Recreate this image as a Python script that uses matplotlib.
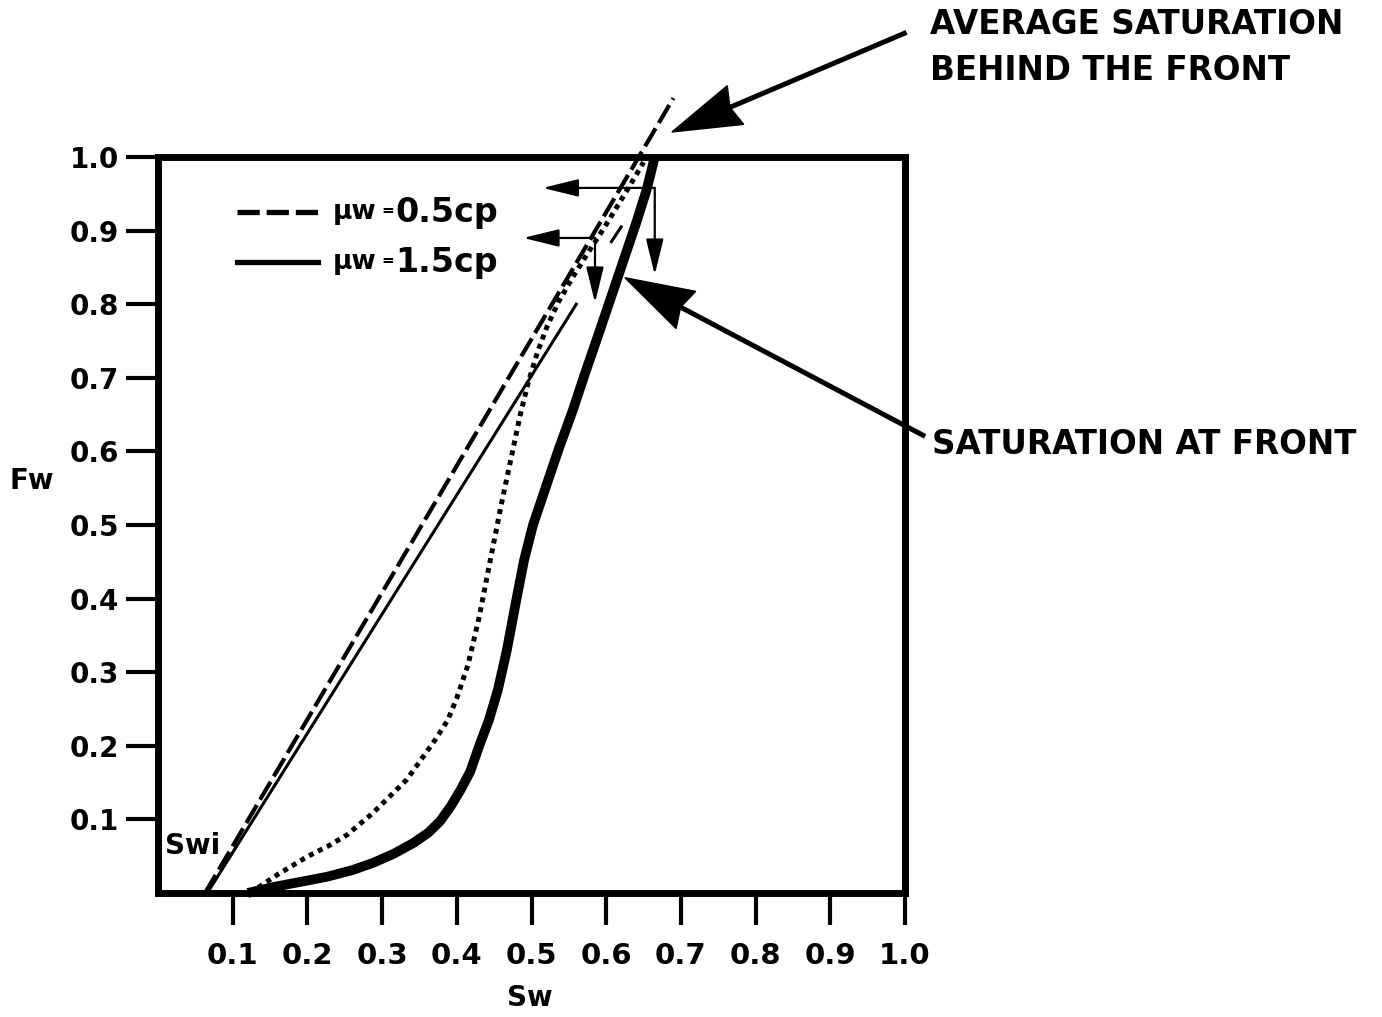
import numpy as np
import matplotlib
matplotlib.use("Agg")
import matplotlib.pyplot as plt
from matplotlib.lines import Line2D
from matplotlib.patches import Polygon

plt.rcParams['font.family'] = ['DejaVu Sans']
plt.rcParams['font.weight'] = 'bold'
plt.rcParams['lines.scale_dashes'] = False

# fractional flow curve, mu_w = 1.5 cp
sw_15 = [0.120, 0.154, 0.190, 0.226, 0.260, 0.288, 0.315, 0.342, 0.362, 0.378,
         0.392, 0.405, 0.418, 0.430, 0.443, 0.455, 0.467, 0.480, 0.490, 0.502,
         0.518, 0.536, 0.555, 0.572, 0.590, 0.610, 0.625, 0.640, 0.654, 0.665]
fw_15 = [0.000, 0.008, 0.015, 0.022, 0.031, 0.041, 0.053, 0.068, 0.082, 0.098,
         0.118, 0.140, 0.165, 0.200, 0.235, 0.276, 0.330, 0.400, 0.452, 0.500,
         0.548, 0.602, 0.655, 0.707, 0.760, 0.820, 0.865, 0.910, 0.955, 1.000]

# fractional flow curve, mu_w = 0.5 cp
sw_05 = [0.123, 0.160, 0.199, 0.230, 0.253, 0.288, 0.333, 0.371, 0.388, 0.400,
         0.415, 0.430, 0.444, 0.460, 0.475, 0.485, 0.496, 0.508, 0.521, 0.536,
         0.556, 0.577, 0.598, 0.619, 0.638, 0.650]
fw_05 = [0.000, 0.025, 0.049, 0.065, 0.079, 0.109, 0.154, 0.208, 0.235, 0.265,
         0.310, 0.375, 0.448, 0.530, 0.602, 0.650, 0.695, 0.735, 0.770, 0.803,
         0.838, 0.872, 0.905, 0.940, 0.972, 0.993]

# tangents drawn from Swi
tan05_sw = [0.063, 0.690]
tan05_fw = [0.000, 1.080]
tan15_sw = [0.066, 0.560]
tan15_fw = [0.000, 0.800]
tan15_piece_sw = [0.607, 0.620]
tan15_piece_fw = [0.885, 0.905]

# read-off arrows: (Sw start, Fw level, Sw end of horizontal, Fw end of vertical)
readoffs = [(0.665, 0.958, 0.515, 0.840),
            (0.585, 0.890, 0.489, 0.802)]

ticks = [0.1, 0.2, 0.3, 0.4, 0.5, 0.6, 0.7, 0.8, 0.9, 1.0]
tick_labels = ['0.1', '0.2', '0.3', '0.4', '0.5', '0.6', '0.7', '0.8', '0.9', '1.0']

fig = plt.figure(figsize=(13.82, 10.17), dpi=100)
ax = fig.add_axes([158 / 1382, 1 - 893 / 1017, 747 / 1382, 736 / 1017])
ax.set_xlim(0, 1.0)
ax.set_ylim(0, 1.0)

for s in ax.spines.values():
    s.set_linewidth(5)

ax.set_xticks(ticks)
ax.set_xticklabels(tick_labels)
ax.set_yticks(ticks)
ax.set_yticklabels(tick_labels)
ax.tick_params(axis='both', direction='out', length=23, width=3, labelsize=20)
ax.tick_params(axis='x', pad=12, labelsize=21)
ax.tick_params(axis='y', pad=5)

# curves
ax.plot(sw_15, fw_15, color='black', lw=7, solid_capstyle='butt',
        solid_joinstyle='round', clip_on=False)
ax.plot(sw_05, fw_05, color='black', lw=3.6, linestyle=(0, (3.6, 3.6)),
        dash_capstyle='butt', clip_on=False)
ax.plot(tan05_sw, tan05_fw, color='black', lw=3, linestyle=(0, (15, 4.5)),
        dash_capstyle='butt', clip_on=False)
ax.plot(tan15_sw, tan15_fw, color='black', lw=2.2, clip_on=False)
ax.plot(tan15_piece_sw, tan15_piece_fw, color='black', lw=2.2, clip_on=False)

# read-off arrows
head = dict(arrowstyle='-|>,head_length=1.1,head_width=0.27', color='black',
            lw=1.6, mutation_scale=20, shrinkA=0, shrinkB=0)
for sw0, fw0, sw1, fw1 in readoffs:
    ax.annotate('', xy=(sw1, fw0), xytext=(sw0, fw0), arrowprops=head,
                annotation_clip=False)
    ax.annotate('', xy=(sw0, fw1), xytext=(sw0, fw0), arrowprops=head,
                annotation_clip=False)


def callout(tail, tip, head_len=69, half_w=21, notch=6, lw=3.6):
    """Heavy pointer with a swept-back head, sizes in pixels."""
    to_px = ax.transData
    p_tail = to_px.transform(tail)
    p_tip = to_px.transform(tip)
    u = (p_tail - p_tip) / np.hypot(*(p_tail - p_tip))
    n = np.array([-u[1], u[0]])
    base = p_tip + u * head_len
    inner = p_tip + u * (head_len - notch)
    pts = np.array([p_tip, base + n * half_w, inner, base - n * half_w])
    pts = to_px.inverted().transform(pts)
    inner_d = to_px.inverted().transform(inner)
    ax.add_line(Line2D([tail[0], inner_d[0]], [tail[1], inner_d[1]],
                       color='black', lw=lw, clip_on=False))
    ax.add_patch(Polygon(pts, closed=True, color='black', clip_on=False))


callout((0.999, 1.168), (0.688, 1.034))
callout((1.024, 0.622), (0.625, 0.836))

# legend drawn by hand
ax.add_line(Line2D([0.106, 0.214], [0.925, 0.925], color='black', lw=3.8,
                   linestyle=(0, (16, 5)), dash_capstyle='butt'))
ax.add_line(Line2D([0.106, 0.214], [0.857, 0.857], color='black', lw=3.8))
for fw, val in [(0.925, '0.5cp'), (0.857, '1.5cp')]:
    ax.text(0.234, fw, 'μw', fontsize=19, va='center', ha='left')
    ax.text(0.299, fw + 0.002, '=', fontsize=11, va='center', ha='left')
    ax.text(0.318, fw, val, fontsize=24, va='center', ha='left')

ax.text(0.010, 0.064, 'Swi', fontsize=20, va='center', ha='left')

fig.text(32 / 1382, 1 - 481 / 1017, 'Fw', fontsize=20, ha='center', va='center')
fig.text(530 / 1382, 1 - 998 / 1017, 'Sw', fontsize=20, ha='center', va='center')

fig.text(930 / 1382, 1 - 25 / 1017, 'AVERAGE SATURATION', fontsize=23.5,
         ha='left', va='center')
fig.text(930 / 1382, 1 - 70 / 1017, 'BEHIND THE FRONT', fontsize=23.5,
         ha='left', va='center')
fig.text(932 / 1382, 1 - 445 / 1017, 'SATURATION AT FRONT', fontsize=23.5,
         ha='left', va='center')

fig.savefig('out.png', dpi=100, facecolor='white')
